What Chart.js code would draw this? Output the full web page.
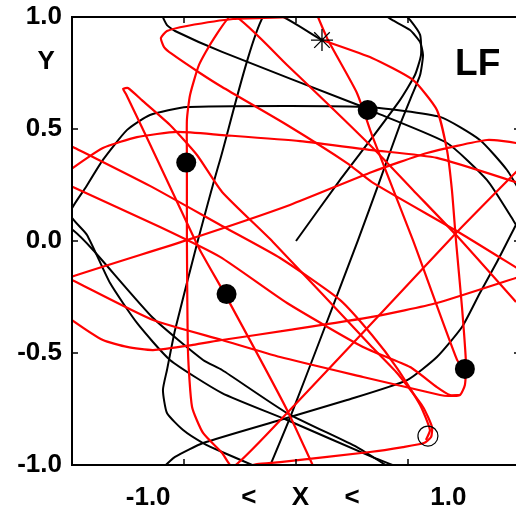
<!DOCTYPE html>
<html>
<head>
<meta charset="utf-8">
<script src="https://cdn.jsdelivr.net/npm/chart.js@4.4.1/dist/chart.umd.min.js"></script>
<style>
  html, body { margin: 0; padding: 0; background: #fff; overflow: hidden; }
  #wrap { width: 540px; height: 508px; }
</style>
</head>
<body>
<div id="wrap"><canvas id="orbit" width="540" height="508"></canvas></div>
<script>
// Orbit plot "LF" - black trajectory ends at the star, red one runs on from it

// tick labels
const xTickValues = [-0.66, -0.21, 0.02, 0.25, 0.68]
const xTickLabels = ["-1.0", "<", "X", "<", "1.0"]
const yTickValues = [1, 0.8, 0.5, 0, -0.5, -1]
const yTickLabels = ["1.0", "Y\u00a0", "0.5", "0.0", "-0.5", "-1.0"]
const minorTicks = [-0.5, 0, 0.5]

// black trajectory pieces [x, y]
const blackStart = [[0, 0], [0.196, 0.272], [0.339, 0.46], [0.464, 0.629], [0.531, 0.741], [0.558, 0.83], [0.554, 0.92], [0.509, 0.987], [0.473, 1.022]]
const blackLoop = [[0.375, 1.022], [0.429, 0.987], [0.509, 0.942], [0.554, 0.888], [0.567, 0.83], [0.554, 0.741], [0.518, 0.652], [0.464, 0.518], [0.375, 0.272], [0.277, 0.004], [0.107, -0.442], [-0.027, -0.79], [-0.116, -1.004]]
const blackToStar = [[-0.174, -1.009], [-0.33, -0.942], [-0.415, -0.902], [-0.504, -0.844], [-0.576, -0.768], [-0.594, -0.665], [-0.576, -0.576], [-0.54, -0.397], [-0.4375, 0.004], [-0.339, 0.362], [-0.134, 1.022], [0.116, 0.897]]
const blackSquare = [[0.442, -1.004], [0.339, -0.964], [-0.04, -0.799], [-0.33, -0.679], [-0.5625, -0.531], [-0.71, -0.366], [-0.83, -0.188], [-0.933, 0.027], [-1.01, 0.121], [-0.9375, 0.241], [-0.862, 0.362], [-0.754, 0.496], [-0.652, 0.5625], [-0.487, 0.598], [-0.027, 0.603], [0.321, 0.598], [0.643, 0.554], [0.821, 0.451], [0.942, 0.317], [1.022, 0.183]]
const blackDiag = [[-0.598, 1.054], [-0.594, 1.0], [-0.576, 0.964], [-0.54, 0.9375], [-0.33, 0.844], [0.277, 0.607], [0.362, 0.571], [0.674, 0.4375], [0.853, 0.272], [0.969, 0.094], [1.022, 0.004]]
const blackLow = [[-1.03, 0.06], [-0.996, 0.049], [-0.906, -0.04], [-0.638, -0.344], [-0.415, -0.531], [-0.33, -0.576], [-0.04, -0.768], [0.272, -0.92], [0.406, -1.004]]
const blackSweep = [[1.022, 0.138], [0.982, 0.071], [0.897, -0.094], [0.821, -0.232], [0.741, -0.384], [0.629, -0.518], [0.496, -0.621], [0.228, -0.71], [-0.071, -0.799], [-0.415, -0.902], [-0.54, -0.964], [-0.585, -1.004], [-0.607, -1.045]]

// red trajectory pieces [x, y]
const redTopLoop = [[0.018, 1.013], [-0.027, 1.0], [-0.281, 0.991], [-0.487, 0.96], [-0.576, 0.9375], [-0.603, 0.906], [-0.589, 0.866], [-0.554, 0.835], [-0.429, 0.75], [-0.33, 0.6875], [-0.04, 0.518], [0.228, 0.348], [0.339, 0.263], [0.732, 0.036], [1.0, -0.129]]
const redColumn = [[0.982, -0.272], [0.719, 0.022], [0.522, 0.228], [0.339, 0.42], [-0.04, 0.786], [-0.281, 1.009], [-0.371, 0.897], [-0.433, 0.786], [-0.473, 0.652], [-0.487, 0.54], [-0.487, 0.362], [-0.487, 0.004], [-0.482, -0.5], [-0.464, -0.741], [-0.415, -0.857], [-0.33, -0.946], [-0.281, -1.009], [-0.027, -0.754], [0.339, -0.366], [0.719, 0.04], [1.022, 0.348]]
const redFromStar = [[0.116, 0.897], [0.339, 0.817], [0.522, 0.719], [0.629, 0.585], [0.674, 0.406], [0.696, 0.228], [0.714, 0.004], [0.741, -0.295], [0.759, -0.549], [0.754, -0.643], [0.732, -0.6875], [0.679, -0.692], [0.643, -0.6875], [0.299, -0.607], [-0.071, -0.518], [-0.33, -0.442], [-0.638, -0.353], [-1.0, -0.174], [-1.018, -0.165], [-0.487, 0.004], [-0.027, 0.161], [0.339, 0.308], [0.585, 0.393], [0.853, 0.451], [0.982, 0.4375], [1.022, 0.42]]
const redThroughStar = [[0.085, 1.031], [0.143, 0.897], [0.272, 0.661], [0.339, 0.473], [0.522, 0.004], [0.719, -0.531], [0.754, -0.571]]
const redUpperArc = [[-1.054, 0.272], [-0.996, 0.326], [-0.862, 0.415], [-0.71, 0.464], [-0.531, 0.487], [-0.33, 0.473], [0.018, 0.446], [0.339, 0.406], [0.629, 0.371], [1.022, 0.25]]
const redLowerArc = [[-1.054, -0.308], [-1.0, -0.353], [-0.862, -0.442], [-0.754, -0.473], [-0.638, -0.487], [-0.46, -0.464], [-0.33, -0.442], [-0.027, -0.397], [0.339, -0.339], [0.629, -0.277], [1.022, -0.152]]
const redCusp = [[0.089, -1.031], [0.076, -1.004], [-0.04, -0.754], [-0.3125, -0.246], [-0.429, -0.04], [-0.518, 0.147], [-0.665, 0.46], [-0.759, 0.656], [-0.772, 0.679], [-0.75, 0.683], [-0.688, 0.629], [-0.5625, 0.518], [-0.442, 0.384], [-0.33, 0.219], [-0.103, -0.004], [0.339, -0.473], [0.451, -0.589], [0.567, -0.741], [0.607, -0.83], [0.603, -0.875], [0.571, -0.902], [0.478, -0.92], [0.33, -0.942], [-0.071, -0.987], [-0.174, -0.996], [-0.25, -1.013]]
const redSlopeA = [[-1.045, 0.446], [-0.996, 0.42], [-0.652, 0.246], [-0.33, 0.067], [-0.071, -0.076], [0.196, -0.263], [0.339, -0.42], [0.451, -0.567], [0.554, -0.732], [0.598, -0.844], [0.58, -0.888]]
const redSlopeB = [[-1.045, 0.263], [-0.996, 0.241], [-0.607, 0.0625], [-0.339, -0.071], [-0.04, -0.277], [0.299, -0.473], [0.509, -0.5625], [0.629, -0.652], [0.6875, -0.6875], [0.732, -0.6875]]

// markers
const dotPoints = [[-0.49, 0.35], [0.32, 0.585], [-0.31, -0.237], [0.754, -0.571]]
const starPoint = [[0.116, 0.897]]
const endPoint = [[0.589, -0.871]]

const toXY = (pts) => pts.map((p) => ({ x: p[0], y: p[1] }))

function lineSet(pts, color, width, order) {
  return {
    data: toXY(pts),
    showLine: true,
    borderColor: color,
    borderWidth: width,
    pointRadius: 0,
    tension: 0.18,
    fill: false,
    order: order,
  }
}

const blackPieces = [blackStart, blackLoop, blackToStar, blackSquare, blackDiag, blackLow, blackSweep]
const redPieces = [redTopLoop, redColumn, redFromStar, redThroughStar, redUpperArc, redLowerArc, redCusp, redSlopeA, redSlopeB]

const datasets = [
  { data: toXY(dotPoints), pointRadius: 10, pointBackgroundColor: "#000", pointBorderColor: "#000", borderWidth: 0, order: 0 },
  { data: toXY(starPoint), pointStyle: "star", pointRadius: 11, pointBorderColor: "#000", pointBorderWidth: 1.3, order: 0 },
  { data: toXY(endPoint), pointRadius: 10, pointBackgroundColor: "rgba(0,0,0,0)", pointBorderColor: "#000", pointBorderWidth: 1.2, order: 0 },
]
redPieces.forEach((p) => datasets.push(lineSet(p, "#ff0000", 2.2, 2)))
blackPieces.forEach((p) => datasets.push(lineSet(p, "#000000", 2, 3)))

// frame, inward tick marks and the panel tag
const framePlugin = {
  id: "frame",
  afterDatasetsDraw(chart) {
    const { ctx, chartArea: a, scales } = chart
    ctx.save()
    ctx.strokeStyle = "#000"
    ctx.lineWidth = 2
    ctx.strokeRect(a.left, a.top, a.right - a.left, a.bottom - a.top)
    ctx.lineWidth = 1.5
    ctx.beginPath()
    minorTicks.forEach((v) => {
      const px = Math.round(scales.x.getPixelForValue(v))
      ctx.moveTo(px, a.top); ctx.lineTo(px, a.top + 6)
      ctx.moveTo(px, a.bottom); ctx.lineTo(px, a.bottom - 6)
      const py = Math.round(scales.y.getPixelForValue(v))
      ctx.moveTo(a.left, py); ctx.lineTo(a.left + 6, py)
      ctx.moveTo(a.right, py); ctx.lineTo(a.right - 6, py)
    })
    ctx.stroke()
    ctx.fillStyle = "#000"
    ctx.font = "bold 37px 'Liberation Sans', Arial, sans-serif"
    ctx.textAlign = "left"
    ctx.textBaseline = "alphabetic"
    ctx.fillText("LF", scales.x.getPixelForValue(0.71), scales.y.getPixelForValue(0.741))
    ctx.restore()
  },
}

const tickFont = { family: "'Liberation Sans', Arial, sans-serif", size: 26, weight: "bold" }

new Chart(document.getElementById("orbit"), {
  type: "scatter",
  data: { datasets: datasets },
  options: {
    responsive: false,
    animation: false,
    events: [],
    layout: { padding: { top: 17, right: 20, left: 0, bottom: 0 } },
    plugins: { legend: { display: false }, tooltip: { enabled: false } },
    scales: {
      x: {
        type: "linear",
        min: -1,
        max: 1,
        grid: { display: false, drawTicks: false },
        border: { display: false },
        afterBuildTicks: (scale) => { scale.ticks = xTickValues.map((v) => ({ value: v })) },
        afterFit: (scale) => { scale.height = 43; scale.paddingLeft = 0; scale.paddingRight = 0 },
        ticks: {
          autoSkip: false,
          maxRotation: 0,
          padding: 17,
          color: "#000",
          font: tickFont,
          callback: (value, index) => xTickLabels[index],
        },
      },
      y: {
        type: "linear",
        min: -1,
        max: 1,
        grid: { display: false, drawTicks: false },
        border: { display: false },
        afterBuildTicks: (scale) => { scale.ticks = yTickValues.map((v) => ({ value: v })) },
        afterFit: (scale) => { scale.width = 72; scale.paddingTop = 0; scale.paddingBottom = 0 },
        ticks: {
          autoSkip: false,
          padding: 10,
          color: "#000",
          font: tickFont,
          callback: (value, index) => yTickLabels[index],
        },
      },
    },
  },
  plugins: [framePlugin],
})
</script>
</body>
</html>
